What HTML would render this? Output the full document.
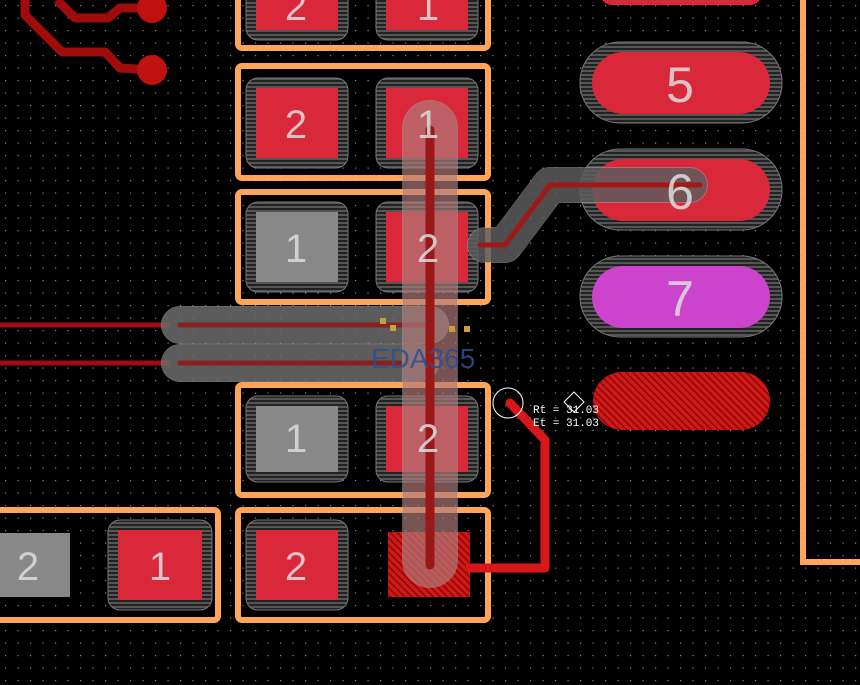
<!DOCTYPE html>
<html><head><meta charset="utf-8"><style>html,body{margin:0;padding:0;background:#000;overflow:hidden}svg{display:block}</style></head><body>
<svg width="860" height="685" viewBox="0 0 860 685" xmlns="http://www.w3.org/2000/svg">
<defs>
<pattern id="g" width="12.5" height="12.5" patternUnits="userSpaceOnUse"><rect x="5" y="5" width="1.2" height="1.2" fill="#8a8a8a"/></pattern>
<pattern id="h" width="4" height="4" patternUnits="userSpaceOnUse"><rect width="4" height="4" fill="#555"/><rect width="4" height="2" fill="#222"/></pattern>
<pattern id="hr" width="5" height="5" patternUnits="userSpaceOnUse" patternTransform="rotate(45)"><rect width="5" height="5" fill="#d01818"/><rect width="5" height="1.5" fill="#8a0808"/></pattern>
</defs>
<rect width="860" height="685" fill="#000"/>
<rect width="860" height="685" fill="url(#g)"/>
<g fill="none" stroke="#a00c0c" stroke-width="9" stroke-linejoin="round">
<polyline points="25,0 25,15 62,52 105,52 120,68 152,70"/>
<polyline points="57,0 75,18 108,18 120,8 152,8"/>
</g>
<circle cx="152" cy="8" r="15" fill="#c01010"/><circle cx="152" cy="70" r="15" fill="#c01010"/>
<g fill="none" stroke="#ffa55a" stroke-width="6">
<rect x="238" y="-10" width="250" height="58" rx="4"/>
<rect x="238" y="66" width="250" height="112" rx="4"/>
<rect x="238" y="192" width="250" height="110" rx="4"/>
<rect x="238" y="385" width="250" height="110" rx="4"/>
<rect x="238" y="510" width="250" height="110" rx="4"/>
<rect x="-10" y="510" width="228" height="110" rx="4"/>
<polyline points="803,0 803,562 860,562"/>
</g>
<g fill="url(#h)" stroke="#777" stroke-width="1">
<rect x="246" y="-20" width="102" height="60" rx="12"/>
<rect x="376" y="-20" width="102" height="60" rx="12"/>
<rect x="246" y="78" width="102" height="90" rx="12"/>
<rect x="376" y="78" width="102" height="90" rx="12"/>
<rect x="246" y="202" width="102" height="90" rx="12"/>
<rect x="376" y="202" width="102" height="90" rx="12"/>
<rect x="246" y="396" width="102" height="86" rx="12"/>
<rect x="376" y="396" width="102" height="86" rx="12"/>
<rect x="246" y="520" width="102" height="90" rx="12"/>
<rect x="108" y="520" width="104" height="90" rx="12"/>
<rect x="580" y="42" width="202" height="81" rx="40"/>
<rect x="580" y="149" width="202" height="81" rx="40"/>
<rect x="580" y="256" width="202" height="81" rx="40"/>
</g>
<g fill="#d8283a">
<rect x="256" y="-10" width="82" height="40"/>
<rect x="386" y="-10" width="82" height="40"/>
<rect x="256" y="88" width="82" height="70"/>
<rect x="386" y="88" width="82" height="70"/>
<rect x="386" y="212" width="82" height="70"/>
<rect x="386" y="406" width="82" height="66"/>
<rect x="256" y="530" width="82" height="70"/>
<rect x="118" y="530" width="84" height="70"/>
<rect x="592" y="52" width="178" height="62" rx="31"/>
<rect x="592" y="159" width="178" height="62" rx="31"/>
<rect x="600" y="-20" width="162" height="25" rx="12"/>
</g>
<rect x="592" y="266" width="178" height="62" rx="31" fill="#cc44cc"/>
<g fill="#888"><rect x="256" y="212" width="82" height="70"/><rect x="256" y="406" width="82" height="66"/><rect x="0" y="533" width="70" height="64"/></g>
<rect x="388" y="532" width="82" height="65" fill="url(#hr)"/>
<rect x="593" y="372" width="177" height="58" rx="29" fill="url(#hr)"/>
<g fill="none" stroke-linejoin="round" stroke-linecap="round">
<path d="M0,325H170M0,363H170" stroke="#a00c0c" stroke-width="5" stroke-linecap="butt"/>
<path d="M180,325H430M180,363H420" stroke="#aaa" stroke-width="38" stroke-opacity="0.6"/>
<path d="M180,325H430M180,363H420" stroke="#555" stroke-width="36" stroke-opacity="0.6"/>
<path d="M180,325H430M180,363H400" stroke="#8a2020" stroke-width="5"/>
<path d="M485,245H505L550,185H690" stroke="#999" stroke-width="36" stroke-opacity="0.6"/>
<path d="M485,245H505L550,185H690" stroke="#444" stroke-width="34" stroke-opacity="0.6"/>
<path d="M480,245H505L550,185H700" stroke="#a01818" stroke-width="5"/>
<path d="M430,128V560" stroke="#aaa" stroke-width="56" stroke-opacity="0.5"/>
<path d="M430,128V560" stroke="#b85050" stroke-width="54" stroke-opacity="0.35"/>
<path d="M430,130V565" stroke="#9a1818" stroke-width="9"/>
<path d="M510,403L545,440V568H470" stroke="#d81818" stroke-width="9"/>
</g>
<circle cx="508" cy="403" r="15" fill="none" stroke="#fff" stroke-width="1"/>
<path d="M574,392l10,10l-10,10l-10,-10z" fill="none" stroke="#fff"/>
<g fill="#c8a040"><rect x="380" y="318" width="6" height="6"/><rect x="390" y="325" width="6" height="6"/><rect x="449" y="326" width="6" height="6"/><rect x="464" y="326" width="6" height="6"/></g>
<text x="371" y="368" font-family="Liberation Sans, sans-serif" font-size="28" fill="#2a5090" fill-opacity="0.85">EDA365</text>
<g font-family="Liberation Mono, monospace" font-size="11" fill="#fff"><text x="533" y="413">Rt = 31.03</text><text x="533" y="426">Et = 31.03</text></g>
<g font-family="Liberation Sans, sans-serif" font-size="40" fill="#ddd" text-anchor="middle" fill-opacity="0.85">
<text x="296" y="20">2</text><text x="428" y="20">1</text>
<text x="296" y="138">2</text><text x="428" y="138">1</text>
<text x="296" y="262">1</text><text x="428" y="262">2</text>
<text x="296" y="452">1</text><text x="428" y="452">2</text>
<text x="296" y="580">2</text><text x="160" y="580">1</text><text x="28" y="580">2</text>
<text x="680" y="102" font-size="50">5</text><text x="680" y="209" font-size="50">6</text><text x="680" y="316" font-size="50">7</text>
</g>
</svg>
</body></html>
